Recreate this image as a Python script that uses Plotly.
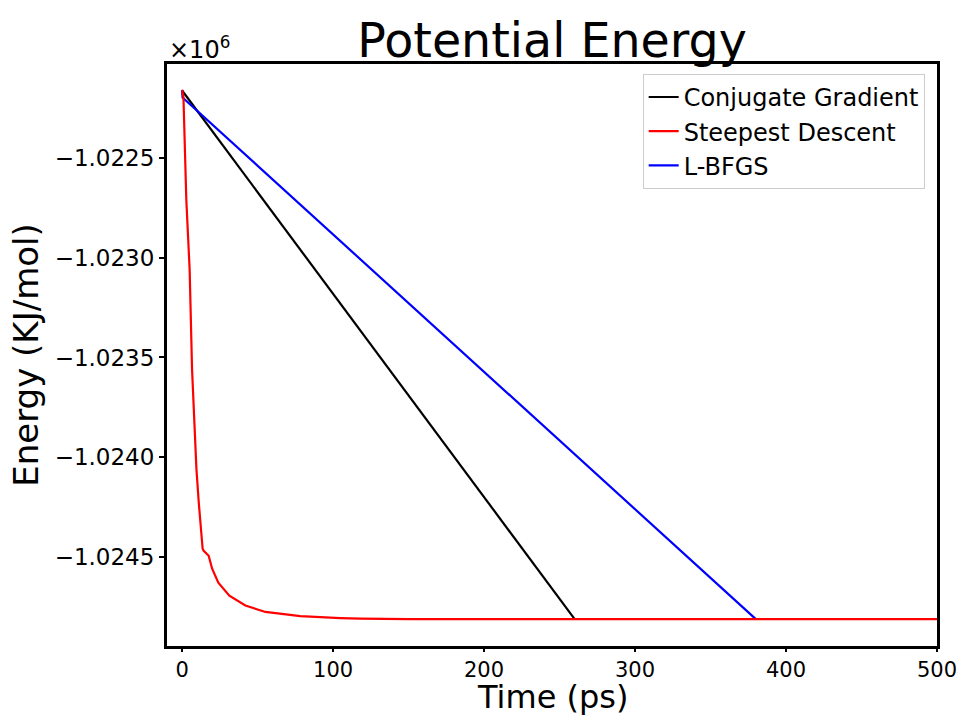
import plotly.graph_objects as go

# ---- data ----
cg_time = [0, 260]
cg_energy = [-1022160, -1024813]

lbfgs_time = [0, 0.3, 380]
lbfgs_energy = [-1022157, -1022195, -1024813]

sd_time = [0, 0.9, 2.8, 5.0, 6.6, 9.5, 11.0, 13.6, 14.3, 17.6, 19.9, 24.0, 31.3,
           41.9, 55.2, 78.3, 104.8, 118, 150, 200, 300, 400, 500]
sd_energy = [-1022157, -1022195, -1022710, -1023060, -1023560, -1024060,
             -1024225, -1024460, -1024470, -1024495, -1024560, -1024630,
             -1024695, -1024745, -1024777, -1024798, -1024808, -1024811,
             -1024813, -1024813, -1024813, -1024813, -1024813]

y_ticks = [-1022500, -1023000, -1023500, -1024000, -1024500]
y_tick_text = ["\u2212" + f"{abs(v)/1e6:.4f}" for v in y_ticks]
x_ticks = [0, 100, 200, 300, 400, 500]

FONT = "DejaVu Sans"

fig = go.Figure()
fig.add_trace(go.Scatter(x=cg_time, y=cg_energy, mode="lines",
                         name="Conjugate Gradient", legendrank=1,
                         line=dict(color="black", width=2.2)))
fig.add_trace(go.Scatter(x=lbfgs_time, y=lbfgs_energy, mode="lines",
                         name="L-BFGS", legendrank=3,
                         line=dict(color="blue", width=2.2)))
fig.add_trace(go.Scatter(x=sd_time, y=sd_energy, mode="lines",
                         name="Steepest Descent", legendrank=2,
                         line=dict(color="red", width=2.2)))

fig.update_layout(
    width=960, height=715,
    margin=dict(l=167, r=23, t=64, b=69),
    paper_bgcolor="white", plot_bgcolor="white",
    font=dict(family=FONT, color="black"),
    title=dict(text="Potential Energy", x=0.575, xanchor="center",
               y=0.944, yanchor="middle", yref="container",
               font=dict(size=47.5, family=FONT, color="black")),
    showlegend=True,
    legend=dict(x=0.984, xanchor="right", y=0.983, yanchor="top",
                bgcolor="rgba(255,255,255,0.8)", bordercolor="#cccccc",
                borderwidth=1, font=dict(size=24, family=FONT, color="black")),
)

fig.update_xaxes(range=[-10, 500], tickvals=x_ticks, automargin=False,
                 showgrid=False, zeroline=False,
                 showline=True, linewidth=3, linecolor="black", mirror=True,
                 ticks="outside", ticklen=3, tickwidth=1.5, tickcolor="black",
                 tickfont=dict(size=21, family=FONT, color="black"))
fig.update_yaxes(range=[-1024948, -1022027], tickvals=y_ticks,
                 ticktext=y_tick_text, automargin=False,
                 showgrid=False, zeroline=False,
                 showline=True, linewidth=3, linecolor="black", mirror=True,
                 ticks="outside", ticklen=5, tickwidth=1.5, tickcolor="black",
                 tickfont=dict(size=23, family=FONT, color="black"),
                 title=dict(text="Energy (KJ/mol)", standoff=6,
                            font=dict(size=34, family=FONT, color="black")))

# x-axis title placed as an annotation so it sits below the tick labels
fig.add_annotation(text="Time (ps)", xref="paper", yref="paper",
                   x=0.5, y=-0.087, xanchor="center", yanchor="middle",
                   showarrow=False,
                   font=dict(size=32, family=FONT, color="black"))

fig.add_annotation(text="\u00d710<sup>6</sup>", xref="paper", yref="paper",
                   x=0, y=1, xanchor="left", yanchor="bottom", yshift=-2,
                   showarrow=False,
                   font=dict(size=24, family=FONT, color="black"))

fig.write_html("out.html")
